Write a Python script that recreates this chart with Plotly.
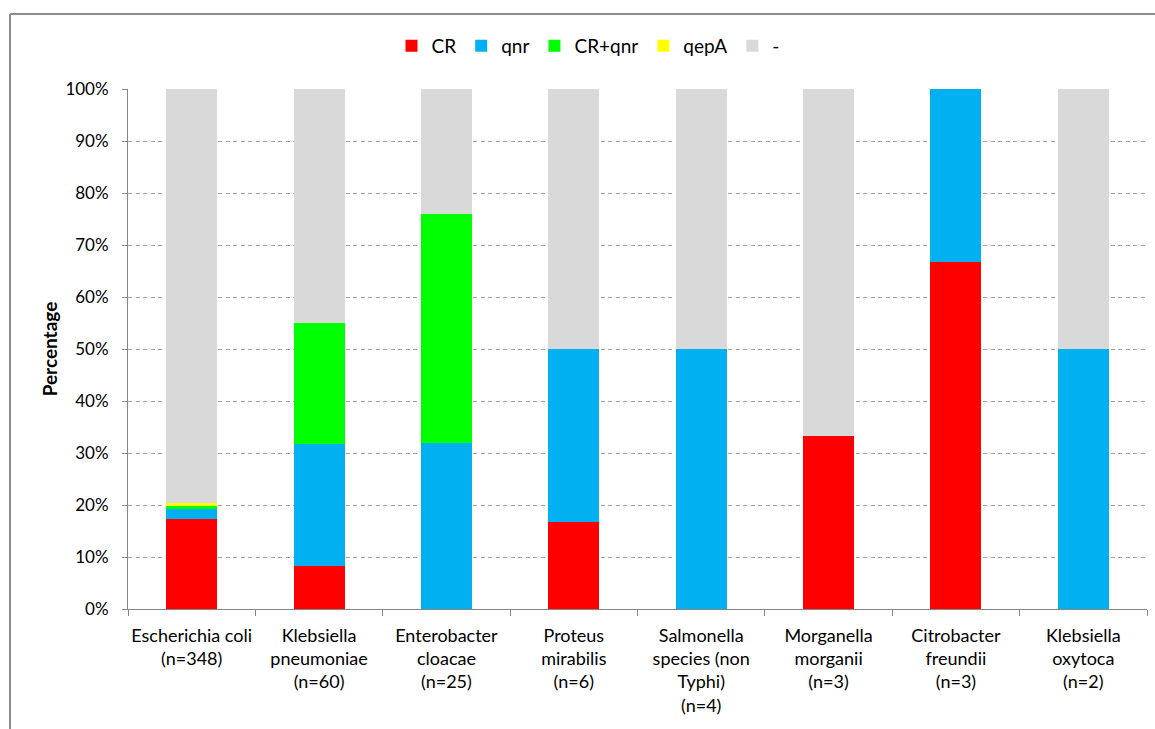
import plotly.graph_objects as go

categories = [
    "Escherichia coli<br>(n=348)",
    "Klebsiella<br>pneumoniae<br>(n=60)",
    "Enterobacter<br>cloacae<br>(n=25)",
    "Proteus<br>mirabilis<br>(n=6)",
    "Salmonella<br>species (non<br>Typhi)<br>(n=4)",
    "Morganella<br>morganii<br>(n=3)",
    "Citrobacter<br>freundii<br>(n=3)",
    "Klebsiella<br>oxytoca<br>(n=2)",
]
cr = [17.24, 8.33, 0, 16.67, 0, 33.33, 66.67, 0]
qnr = [2.01, 23.33, 32.0, 33.33, 50.0, 0, 33.33, 50.0]
cr_qnr = [0.57, 23.33, 44.0, 0, 0, 0, 0, 0]
qepa = [0.57, 0, 0, 0, 0, 0, 0, 0]
none = [79.61, 45.0, 24.0, 50.0, 50.0, 66.67, 0, 50.0]

series = [
    ("CR", cr, "#FF0000"),
    ("qnr", qnr, "#00B0F0"),
    ("CR+qnr", cr_qnr, "#00FF00"),
    ("qepA", qepa, "#FFFF00"),
    ("-", none, "#D9D9D9"),
]

FONT = "Lato, 'Liberation Sans', Arial, sans-serif"

fig = go.Figure()
for name, vals, col in series:
    fig.add_trace(go.Bar(
        x=categories, y=vals, name=name, marker=dict(color=col, line=dict(width=0)),
        width=0.4,
    ))

W, H = 1155, 729
L, R, T, B = 128, 8, 89, 120
pw, ph = W - L - R, H - T - B

def px_to_paper_x(px):
    return (px - L) / pw

def py_to_paper_y(py):
    return (H - B - py) / ph

fig.update_layout(
    width=W, height=H,
    margin=dict(l=L, r=R, t=T, b=B, autoexpand=False),
    barmode="stack",
    paper_bgcolor="white", plot_bgcolor="white",
    font=dict(family=FONT, size=16, color="#000000"),
    legend=dict(
        orientation="h", x=px_to_paper_x(588), xanchor="center",
        y=py_to_paper_y(46), yanchor="middle",
        traceorder="normal", font=dict(size=19), itemwidth=30,
    ),
    xaxis=dict(
        showline=True, linecolor="#868686", linewidth=1,
        ticks="outside", tickson="boundaries", ticklen=6, tickcolor="#868686",
        tickfont=dict(size=18), showgrid=False, tickangle=0, automargin=False,
        ticklabelstandoff=10,
    ),
    yaxis=dict(
        range=[0, 100], dtick=10, ticksuffix="%",
        showline=True, linecolor="#868686", linewidth=1,
        ticks="outside", ticklen=5, tickcolor="#868686",
        showgrid=True, gridcolor="#A0A0A0", griddash="4px,3.5px", gridwidth=1,
        tickfont=dict(size=17), ticklabelstandoff=10, automargin=False,
        title=dict(text="<b>Percentage</b>", font=dict(size=19), standoff=2),
        zeroline=False,
    ),
    bargap=0.6,
)

# outer chart border (top and left visible)
fig.add_shape(type="line", xref="paper", yref="paper",
              x0=px_to_paper_x(10), y0=py_to_paper_y(740),
              x1=px_to_paper_x(10), y1=py_to_paper_y(14),
              line=dict(color="#8C8C8C", width=2))
fig.add_shape(type="line", xref="paper", yref="paper",
              x0=px_to_paper_x(10), y0=py_to_paper_y(14),
              x1=px_to_paper_x(1170), y1=py_to_paper_y(14),
              line=dict(color="#8C8C8C", width=2))

fig.write_html("out.html")
